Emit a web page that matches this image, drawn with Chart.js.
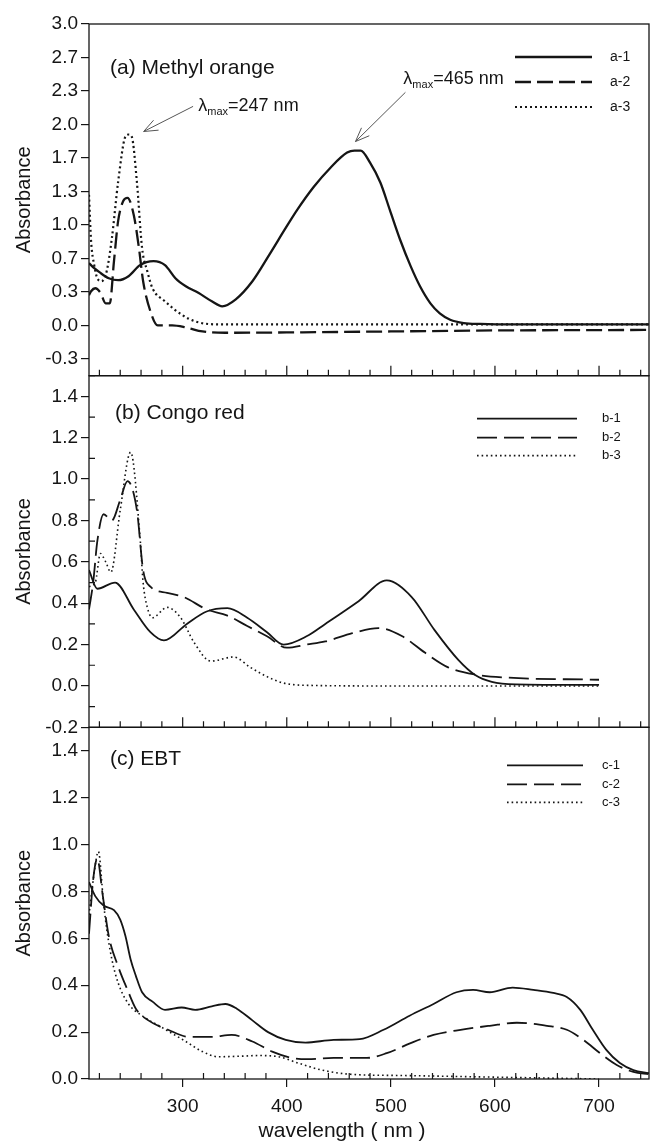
<!DOCTYPE html>
<html>
<head>
<meta charset="utf-8">
<title>UV-Vis spectra</title>
<script src="https://cdn.jsdelivr.net/npm/chart.js@4.4.1/dist/chart.umd.min.js"></script>
<style>
    html, body { margin: 0; padding: 0; background: #fff; }
    #wrap { width: 650px; height: 1142px; }
</style>
</head>
<body>
<div id="wrap"><canvas id="spectra" width="650" height="1142"></canvas></div>
<script>
// Spectra (wavelength in nm, absorbance)
// (a) Methyl orange
const a1Wl  = [210, 215, 220, 229, 238, 248, 259, 272, 283, 293, 303, 315, 328, 338, 351, 367, 383, 399, 410, 426, 442, 458, 465, 471, 480, 490, 499, 509, 519, 528, 538, 547, 557, 570, 586, 620, 700, 748];
const a1Abs = [0.62, 0.57, 0.53, 0.47, 0.45, 0.49, 0.60, 0.64, 0.60, 0.47, 0.39, 0.325, 0.24, 0.19, 0.26, 0.44, 0.70, 0.97, 1.15, 1.38, 1.57, 1.72, 1.74, 1.74, 1.62, 1.42, 1.15, 0.85, 0.59, 0.39, 0.22, 0.12, 0.057, 0.024, 0.015, 0.01, 0.01, 0.01];
const a2Wl  = [210, 212, 216, 221, 226, 230, 234, 238, 243, 247, 253, 258, 262, 269, 276, 290, 303, 319, 341, 400, 500, 600, 748];
const a2Abs = [0.30, 0.34, 0.37, 0.325, 0.22, 0.22, 0.64, 1.04, 1.24, 1.27, 1.10, 0.77, 0.44, 0.14, 0.0, 0.0, -0.02, -0.06, -0.073, -0.07, -0.06, -0.05, -0.045];
const a3Wl  = [210, 212, 215, 218, 222, 227, 232, 238, 245, 248, 251, 256, 261, 266, 271, 283, 299, 312, 334, 400, 748];
const a3Abs = [1.30, 0.84, 0.60, 0.47, 0.44, 0.54, 0.87, 1.43, 1.88, 1.90, 1.88, 1.43, 0.77, 0.54, 0.37, 0.24, 0.107, 0.04, 0.01, 0.01, 0.01];

// (b) Congo red
const b1Wl  = [210, 218, 235, 253, 269, 282, 304, 323, 343, 362, 381, 397, 419, 437, 469, 496, 520, 542, 565, 581, 597, 620, 700];
const b1Abs = [0.56, 0.47, 0.50, 0.37, 0.26, 0.22, 0.30, 0.36, 0.376, 0.33, 0.26, 0.20, 0.24, 0.30, 0.41, 0.51, 0.43, 0.27, 0.125, 0.053, 0.02, 0.008, 0.005];
const b2Wl  = [210, 214, 218, 224, 232, 240, 247, 256, 262, 269, 285, 301, 323, 343, 362, 381, 400, 419, 437, 463, 488, 511, 533, 555, 581, 613, 700];
const b2Abs = [0.37, 0.50, 0.70, 0.83, 0.80, 0.90, 0.99, 0.85, 0.56, 0.48, 0.45, 0.43, 0.37, 0.34, 0.29, 0.24, 0.185, 0.20, 0.215, 0.255, 0.28, 0.24, 0.16, 0.09, 0.055, 0.04, 0.03];
const b3Wl  = [210, 216, 221, 226, 231, 240, 250, 259, 262, 266, 271, 285, 298, 311, 327, 349, 365, 381, 397, 420, 500, 700];
const b3Abs = [0.48, 0.50, 0.64, 0.60, 0.55, 0.85, 1.13, 0.72, 0.50, 0.38, 0.33, 0.38, 0.33, 0.21, 0.12, 0.14, 0.09, 0.045, 0.014, 0.003, 0.0, 0.0];

// (c) EBT
const c1Wl  = [210, 216, 224, 234, 240, 245, 250, 255, 261, 271, 283, 299, 312, 328, 341, 352, 367, 382, 399, 418, 445, 470, 493, 518, 541, 563, 579, 595, 617, 637, 656, 669, 682, 694, 707, 720, 733, 748];
const c1Abs = [0.84, 0.78, 0.74, 0.72, 0.68, 0.61, 0.51, 0.44, 0.37, 0.33, 0.295, 0.305, 0.295, 0.31, 0.32, 0.30, 0.25, 0.20, 0.167, 0.155, 0.167, 0.17, 0.21, 0.27, 0.32, 0.37, 0.38, 0.37, 0.39, 0.38, 0.367, 0.35, 0.295, 0.21, 0.124, 0.068, 0.038, 0.025];
const c2Wl  = [210, 214, 218, 223, 229, 238, 247, 255, 267, 286, 306, 328, 347, 367, 386, 405, 420, 445, 477, 496, 519, 541, 567, 595, 621, 650, 669, 685, 701, 717, 733, 748];
const c2Abs = [0.62, 0.85, 0.94, 0.79, 0.61, 0.48, 0.38, 0.30, 0.25, 0.21, 0.18, 0.18, 0.188, 0.16, 0.117, 0.09, 0.085, 0.09, 0.09, 0.11, 0.153, 0.188, 0.21, 0.227, 0.24, 0.227, 0.21, 0.167, 0.11, 0.06, 0.03, 0.02];
const c3Wl  = [210, 215, 219, 224, 227, 232, 238, 248, 261, 280, 303, 319, 334, 354, 373, 392, 411, 432, 461, 509, 573, 637, 700];
const c3Abs = [0.70, 0.88, 0.97, 0.75, 0.64, 0.51, 0.41, 0.32, 0.27, 0.22, 0.16, 0.117, 0.095, 0.097, 0.10, 0.095, 0.068, 0.04, 0.02, 0.015, 0.01, 0.005, 0.0];

// Axis ticks
const xMajorTicks = [300, 400, 500, 600, 700];
const xMinorTicks = [220, 240, 260, 280, 320, 340, 360, 380, 420, 440, 460, 480, 520, 540, 560, 580, 620, 640, 660, 680, 720, 740];
const aTicks = [-0.333, 0, 0.333, 0.667, 1, 1.333, 1.667, 2, 2.333, 2.667, 3];
const aTickLabels = ['-0.3', '0.0', '0.3', '0.7', '1.0', '1.3', '1.7', '2.0', '2.3', '2.7', '3.0'];
const bTicks = [-0.2, 0, 0.2, 0.4, 0.6, 0.8, 1.0, 1.2, 1.4];
const bTickLabels = ['-0.2', '0.0', '0.2', '0.4', '0.6', '0.8', '1.0', '1.2', '1.4'];
const bMinorTicks = [-0.1, 0.1, 0.3, 0.5, 0.7, 0.9, 1.1, 1.3, 1.5];
const cTicks = [0, 0.2, 0.4, 0.6, 0.8, 1.0, 1.2, 1.4];
const cTickLabels = ['0.0', '0.2', '0.4', '0.6', '0.8', '1.0', '1.2', '1.4'];

const FONT = '"Liberation Sans", Arial, Helvetica, sans-serif';
const INK = '#151515';

// Line styles for each panel
const thick = { solid: { width: 2.3, dash: [] }, dashed: { width: 2.3, dash: [16, 6] }, dotted: { width: 2.2, dash: [2, 3] } };
const thin  = { solid: { width: 1.8, dash: [] }, dashed: { width: 1.8, dash: [20, 7] }, dotted: { width: 1.6, dash: [1.6, 3] } };

function series(label, wl, abs, axis, style) {
    return {
        label: label,
        yAxisID: axis,
        data: wl.map((w, i) => ({ x: w, y: abs[i] })),
        borderColor: INK,
        borderWidth: style.width,
        borderDash: style.dash,
        borderCapStyle: 'butt',
        pointRadius: 0,
        fill: false,
        cubicInterpolationMode: 'monotone'
    };
}

function yAxis(min, max, weight, ticks, labels) {
    return {
        type: 'linear',
        position: 'left',
        stack: 'panels',
        stackWeight: 1,
        weight: weight,
        min: min,
        max: max,
        afterBuildTicks: s => { s.ticks = ticks.map(v => ({ value: v })); },
        afterFit: s => { s.width = 89; },
        ticks: {
            autoSkip: false,
            padding: 3,
            color: INK,
            font: { family: FONT, size: 19 },
            callback: (v, i) => labels[i]
        },
        grid: { drawOnChartArea: false, drawTicks: true, tickLength: 8, color: INK, lineWidth: 1.2 },
        border: { display: false },
        title: {
            display: true,
            text: 'Absorbance',
            color: INK,
            font: { family: FONT, size: 20 },
            padding: { top: 12, bottom: 0 }
        }
    };
}

// Per-panel decoration: frame, inner ticks, name, legend
const panels = [
    { axis: 'ya', name: '(a) Methyl orange', nameX: 110, nameDy: 44,
      legend: { x0: 515, x1: 592, tx: 610, rows: [33, 58, 83], size: 14 }, datasets: [0, 1, 2], yMinor: [] },
    { axis: 'yb', name: '(b) Congo red', nameX: 115, nameDy: 38,
      legend: { x0: 477, x1: 577, tx: 602, rows: [43, 62, 80], size: 13 }, datasets: [3, 4, 5], yMinor: bMinorTicks },
    { axis: 'yc', name: '(c) EBT', nameX: 110, nameDy: 32,
      legend: { x0: 507, x1: 583, tx: 602, rows: [38, 57, 75], size: 13 }, datasets: [6, 7, 8], yMinor: [] }
];

function drawLambda(ctx, x, y, rest) {
    ctx.font = '18px ' + FONT;
    ctx.fillText('\u03bb', x, y);
    let cx = x + ctx.measureText('\u03bb').width;
    ctx.font = '11px ' + FONT;
    ctx.fillText('max', cx, y + 6);
    cx += ctx.measureText('max').width;
    ctx.font = '18px ' + FONT;
    ctx.fillText(rest, cx, y);
}

function drawArrow(ctx, x1, y1, x2, y2) {
    const ang = Math.atan2(y2 - y1, x2 - x1);
    ctx.beginPath();
    ctx.moveTo(x1, y1);
    ctx.lineTo(x2, y2);
    [-0.38, 0.38].forEach(d => {
        ctx.moveTo(x2, y2);
        ctx.lineTo(x2 - 15 * Math.cos(ang + d), y2 - 15 * Math.sin(ang + d));
    });
    ctx.stroke();
}

const panelDecor = {
    id: 'panelDecor',
    afterDraw(chart) {
        const ctx = chart.ctx;
        const xs = chart.scales.x;
        const area = chart.chartArea;
        ctx.save();
        ctx.strokeStyle = INK;
        ctx.fillStyle = INK;

        panels.forEach((p, pi) => {
            const ys = chart.scales[p.axis];
            const top = ys.top, bottom = ys.bottom;

            // frame
            ctx.lineWidth = 1.3;
            ctx.setLineDash([]);
            ctx.strokeRect(area.left, top, area.right - area.left, bottom - top);

            // x ticks pointing into the panel
            ctx.lineWidth = 1.2;
            ctx.beginPath();
            xMinorTicks.forEach(v => {
                const px = xs.getPixelForValue(v);
                ctx.moveTo(px, bottom);
                ctx.lineTo(px, bottom - 6);
            });
            if (pi < 2) {
                xMajorTicks.forEach(v => {
                    const px = xs.getPixelForValue(v);
                    ctx.moveTo(px, bottom);
                    ctx.lineTo(px, bottom - 10);
                });
            }
            // y minor ticks inside
            p.yMinor.forEach(v => {
                const py = ys.getPixelForValue(v);
                ctx.moveTo(area.left, py);
                ctx.lineTo(area.left + 6, py);
            });
            ctx.stroke();

            // panel name
            ctx.font = '21px ' + FONT;
            ctx.textAlign = 'left';
            ctx.textBaseline = 'middle';
            ctx.fillText(p.name, p.nameX, top + p.nameDy);

            // legend
            const lg = p.legend;
            p.datasets.forEach((di, k) => {
                const ds = chart.data.datasets[di];
                const ly = top + lg.rows[k];
                ctx.lineWidth = ds.borderWidth;
                ctx.setLineDash(ds.borderDash);
                ctx.beginPath();
                ctx.moveTo(lg.x0, ly);
                ctx.lineTo(lg.x1, ly);
                ctx.stroke();
                ctx.setLineDash([]);
                ctx.font = lg.size + 'px ' + FONT;
                ctx.fillText(ds.label, lg.tx, ly);
            });
        });

        // lambda max annotations in panel (a)
        const ya = chart.scales.ya;
        ctx.strokeStyle = '#555';
        ctx.lineWidth = 1;
        ctx.setLineDash([]);
        drawArrow(ctx, xs.getPixelForValue(514), ya.getPixelForValue(2.32), xs.getPixelForValue(466), ya.getPixelForValue(1.83));
        drawArrow(ctx, xs.getPixelForValue(310), ya.getPixelForValue(2.18), xs.getPixelForValue(262.5), ya.getPixelForValue(1.93));
        ctx.fillStyle = INK;
        ctx.textBaseline = 'middle';
        drawLambda(ctx, xs.getPixelForValue(512), ya.getPixelForValue(2.45), '=465 nm');
        drawLambda(ctx, xs.getPixelForValue(315), ya.getPixelForValue(2.18), '=247 nm');

        // x axis title
        ctx.font = '21px ' + FONT;
        ctx.textAlign = 'center';
        ctx.fillText('wavelength ( nm )', 342, 1131);
        ctx.restore();
    }
};

document.addEventListener('DOMContentLoaded', function() {
    const ctx = document.getElementById('spectra').getContext('2d');
    new Chart(ctx, {
        type: 'line',
        data: {
            datasets: [
                series('a-1', a1Wl, a1Abs, 'ya', thick.solid),
                series('a-2', a2Wl, a2Abs, 'ya', thick.dashed),
                series('a-3', a3Wl, a3Abs, 'ya', thick.dotted),
                series('b-1', b1Wl, b1Abs, 'yb', thin.solid),
                series('b-2', b2Wl, b2Abs, 'yb', thin.dashed),
                series('b-3', b3Wl, b3Abs, 'yb', thin.dotted),
                series('c-1', c1Wl, c1Abs, 'yc', thin.solid),
                series('c-2', c2Wl, c2Abs, 'yc', thin.dashed),
                series('c-3', c3Wl, c3Abs, 'yc', thin.dotted)
            ]
        },
        options: {
            responsive: false,
            animation: false,
            layout: { padding: { top: 24, right: 1, left: 0, bottom: 0 } },
            plugins: { legend: { display: false }, tooltip: { enabled: false } },
            scales: {
                x: {
                    type: 'linear',
                    position: 'bottom',
                    min: 210,
                    max: 748,
                    afterBuildTicks: s => { s.ticks = xMajorTicks.map(v => ({ value: v })); },
                    afterFit: s => { s.height = 63; },
                    ticks: { autoSkip: false, maxRotation: 0, padding: 8, color: INK, font: { family: FONT, size: 19 } },
                    grid: { drawOnChartArea: false, drawTicks: true, tickLength: 8, color: INK, lineWidth: 1.2 },
                    border: { display: false }
                },
                ya: yAxis(-0.5, 3.0, 3, aTicks, aTickLabels),
                yb: yAxis(-0.2, 1.5, 2, bTicks, bTickLabels),
                yc: yAxis(0, 1.5, 1, cTicks, cTickLabels)
            }
        },
        plugins: [panelDecor]
    });
});
</script>
</body>
</html>
